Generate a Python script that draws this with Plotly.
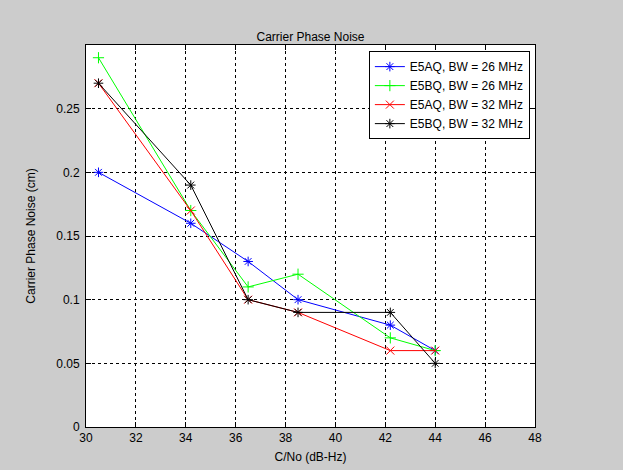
import plotly.graph_objects as go

cn0 = [30.5, 34.2, 36.5, 38.5, 42.2, 44.0]
e5aq_26 = [0.20, 0.16, 0.13, 0.10, 0.08, 0.06]
e5bq_26 = [0.29, 0.17, 0.11, 0.12, 0.07, 0.06]
e5aq_32 = [0.27, 0.17, 0.10, 0.09, 0.06, 0.06]
e5bq_32 = [0.27, 0.19, 0.10, 0.09, 0.09, 0.05]

series = [
    ("E5AQ, BW = 26 MHz", e5aq_26, "#0000ff", "asterisk-open"),
    ("E5BQ, BW = 26 MHz", e5bq_26, "#00ff00", "cross-thin-open"),
    ("E5AQ, BW = 32 MHz", e5aq_32, "#ff0000", "x-thin-open"),
    ("E5BQ, BW = 32 MHz", e5bq_32, "#000000", "asterisk-open"),
]

fig = go.Figure()
for name, vals, col, sym in series:
    fig.add_trace(go.Scatter(
        x=cn0, y=vals, name=name, mode="lines+markers",
        line=dict(color=col, width=1),
        marker=dict(symbol=sym, size=8, color=col, line=dict(color=col, width=1)),
    ))

font = dict(family="Liberation Sans, Arial, sans-serif", size=12, color="black")
fig.update_layout(
    width=623, height=470,
    margin=dict(l=86, r=88, t=45, b=43),
    paper_bgcolor="#cccccc", plot_bgcolor="white",
    font=font,
    title=dict(text="Carrier Phase Noise", x=(86 + 535) / 2 / 623, xanchor="center",
               y=1 - 37 / 470, yanchor="middle", font=dict(size=12, color="black")),
    legend=dict(x=0.630, y=0.984, xanchor="left", yanchor="top",
                bgcolor="white", bordercolor="black", borderwidth=1,
                font=dict(size=12, color="black"), tracegroupgap=0),
    showlegend=True,
)
axis_common = dict(
    showline=True, linecolor="black", linewidth=1, mirror="ticks",
    ticks="inside", ticklen=5, tickcolor="black",
    showgrid=True, gridcolor="black", gridwidth=1, griddash="3px,3px",
    zeroline=False, tickfont=font,
)
fig.update_xaxes(range=[30, 48], tickvals=list(range(30, 49, 2)), automargin=False,
                 title=dict(text="C/No (dB-Hz)", font=font, standoff=8), **axis_common)
fig.update_yaxes(range=[0, 0.3], tickvals=[0, 0.05, 0.1, 0.15, 0.2, 0.25],
                 ticktext=["0", "0.05", "0.1", "0.15", "0.2", "0.25"],
                 ticklabelstandoff=3, automargin=False,
                 title=dict(text="Carrier Phase Noise (cm)", font=font, standoff=18), **axis_common)

fig.write_html("out.html")
